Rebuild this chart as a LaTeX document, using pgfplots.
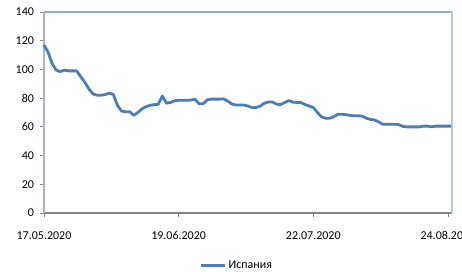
\documentclass[border=0pt]{standalone}
\usepackage{pgfplots}
\pgfplotsset{compat=1.18}
\usepackage{fontspec}
\setmainfont{Carlito}
\definecolor{lineblue}{HTML}{4A7EBB}
\definecolor{axgray}{HTML}{868686}
\definecolor{axleft}{HTML}{A6B4C8}
\definecolor{frameblue}{HTML}{8EB0E0}
\begin{document}
\begin{tikzpicture}[x=1pt,y=1pt]
\begin{axis}[
  name=ax,
  at={(33pt,44.25pt)}, anchor=south west,
  scale only axis,
  width=306pt, height=150.75pt,
  xmin=0, xmax=100, ymin=0, ymax=140,
  axis x line*=bottom, axis y line*=left,
  x axis line style={draw=axgray, line width=1pt, -},
  y axis line style={draw=axleft, line width=0.8pt, -},
  xtick={0,33,66,99},
  xticklabels={17.05.2020,19.06.2020,22.07.2020,24.08.2020},
  ytick={0,20,40,60,80,100,120,140},
  tick align=outside,
  major tick length=3pt,
  x tick style={draw=axgray, line width=0.6pt},
  y tick style={draw=axgray, line width=0.6pt},
  tick label style={font=\fontsize{9}{10}\selectfont, text=black},
  /pgf/number format/assume math mode=true,
  xticklabel style={yshift=-7.5pt},
  yticklabel style={xshift=-1pt},
  legend style={at={(0.473,-0.262)}, anchor=center, draw=none, fill=none,
    font=\fontsize{9}{10}\selectfont, inner sep=0pt},
  legend image code/.code={\draw[#1] (0pt,0pt) -- (18pt,0pt);},
  clip=false,
]
\addplot[lineblue, line width=2.1pt, line join=round] coordinates {
(0,117) (1,112) (2,104) (3,99.5) (4,98.5) (5,99.5) (6,99) (7,99) (8,99)
(9,95) (10,91) (11,86.5) (12,83) (13,82) (14,82) (15,82.5) (16,83.5) (17,82.5)
(18,75) (19,71) (20,70.5) (21,70.5) (22,68) (23,70) (24,72.5) (25,74) (26,75)
(27,75.5) (28,75.7) (29,81.5) (30,76.5) (31,77) (32,78.2) (33,78.5) (34,78.5)
(35,78.5) (36,78.7) (37,79.2) (38,76.2) (39,76) (40,78.8) (41,79.3) (42,79.3)
(43,79.3) (44,79.5) (45,78) (46,76) (47,75.2) (48,75.2) (49,75.2) (50,74.5)
(51,73.4) (52,73.5) (53,74.5) (54,76.5) (55,77.3) (56,77.3) (57,75.8) (58,75.5)
(59,77) (60,78.3) (61,77.2) (62,77) (63,76.9) (64,75.5) (65,74.5) (66,73.5)
(67,70) (68,67) (69,66) (70,66) (71,67) (72,68.7) (73,68.8) (74,68.5) (75,68)
(76,67.7) (77,67.7) (78,67.5) (79,66) (80,65.2) (81,64.8) (82,63.5) (83,61.8)
(84,61.8) (85,61.8) (86,61.8) (87,61.5) (88,60.3) (89,60) (90,60) (91,60)
(92,60) (93,60.5) (94,60.5) (95,60) (96,60.5) (97,60.5) (98,60.5) (99,60.5)
(100,60.5)
};
\addlegendentry{Испания}
\end{axis}
\draw[frameblue, line width=0.8pt] (ax.south west |- ax.north west) -- (ax.north east);
\draw[frameblue!70, line width=1.4pt] (ax.north east) -- (ax.south east);
\pgfresetboundingbox
\path[use as bounding box] (0,0) rectangle (346.5pt,204pt);
\end{tikzpicture}
\end{document}
